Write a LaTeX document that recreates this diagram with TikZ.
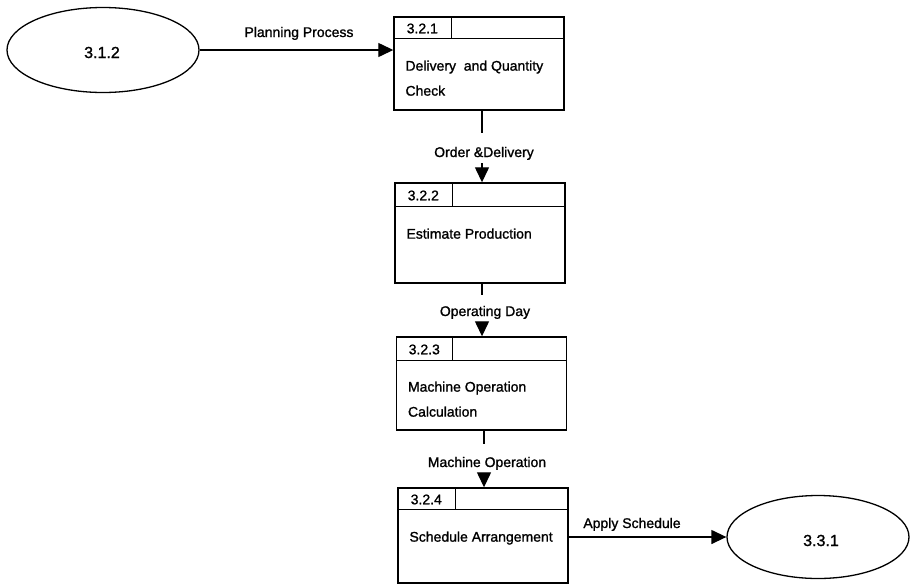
\documentclass[tikz,border=0pt]{standalone}
\usepackage{fontspec}
\setmainfont{Liberation Sans}
% slightly heavier strokes for all diagram text
\newfontfamily\dfdfont{Liberation Sans}[FakeBold=1.2]
\usetikzlibrary{arrows.meta,shapes.geometric}

\begin{document}
\begin{tikzpicture}[x=1pt,y=-1pt,
  every node/.style={font=\dfdfont\fontsize{14}{25}\selectfont},
  line/.style={line width=1.3pt},
  flow/.style={line width=1.3pt,-{Triangle[length=15pt,width=14pt]}},
  procbox/.style={draw,line width=1.4pt,rectangle,inner sep=0pt,minimum width=170pt},
  extent/.style={draw,line width=1.3pt,ellipse,inner sep=0pt},
  numtext/.style={inner sep=0pt,text height=10pt,text depth=0pt},
  bignum/.style={numtext,font=\dfdfont\fontsize{16}{20}\selectfont},
  bodytext/.style={anchor=north west,inner sep=0pt,align=left},
  flowlabel/.style={inner sep=0pt,text height=10pt,text depth=0pt}]

  \useasboundingbox (0,0) rectangle (910,584);

  % external entities
  \node[extent,minimum width=192pt,minimum height=85pt] (e1) at (103,50) {};
  \node[bignum] (e1t) at (102,53) {3.1.2};
  \node[extent,minimum width=182pt,minimum height=83pt] (e2) at (818,537) {};
  \node[bignum] (e2t) at (821,541) {3.3.1};

  % process boxes
  \node[procbox,minimum height=93pt]  (p1) at (479,63.5) {};
  \node[procbox,minimum height=100pt] (p2) at (480,233) {};
  \node[procbox,minimum height=93pt]  (p3) at (481.5,383.5) {};
  \node[procbox,minimum height=95pt]  (p4) at (483,535.5) {};

  % header rows: number cell and empty cell
  \foreach \p/\h/\d/\n in {p1/22/58/3.2.1, p2/24/58/3.2.2, p3/24/57/3.2.3, p4/22/58/3.2.4}{
    \draw[line width=1.4pt] ([yshift=-\h pt]\p.north west) -- ([yshift=-\h pt]\p.north east);
    \draw[line width=1.2pt] ([xshift=\d pt]\p.north west) -- ([xshift=\d pt,yshift=-\h pt]\p.north west);
    \node[numtext] (\p n) at ([xshift=\d pt/2,yshift=-\h pt/2-1pt]\p.north west) {\n};
  }

  % process descriptions
  \node[bodytext] (p1b) at ([xshift=12pt,yshift=-44pt]p1.north west) {Delivery\ \ and Quantity\\Check};
  \node[bodytext] (p2b) at ([xshift=12pt,yshift=-46pt]p2.north west) {Estimate Production};
  \node[bodytext] (p3b) at ([xshift=12pt,yshift=-45pt]p3.north west) {Machine Operation\\Calculation};
  \node[bodytext] (p4b) at ([xshift=12pt,yshift=-44pt]p4.north west) {Schedule Arrangement};

  % flow labels and the gaps they sit in
  \node[flowlabel] (l0) at (299,32) {Planning Process};
  \node[flowlabel] (l1) at (484,152) {Order \&Delivery};
  \node[flowlabel] (l2) at (485,311) {Operating Day};
  \node[flowlabel] (l3) at (487,462) {Machine Operation};
  \node[flowlabel] (l4) at (632,523) {Apply Schedule};

  \coordinate (g1a) at (482,133);  \coordinate (g1b) at (482,163);
  \coordinate (g2a) at (482,295);  \coordinate (g2b) at (482,322);
  \coordinate (g3a) at (484,444);  \coordinate (g3b) at (484,473);

  % data flows
  \draw[flow] (e1.east) -- (p1.west |- e1.east);
  \draw[line] (p1.south -| g1a) -- (g1a);
  \draw[flow] (g1b) -- (g1b |- p2.north);
  \draw[line] (p2.south -| g2a) -- (g2a);
  \draw[flow] (g2b) -- (g2b |- p3.north);
  \draw[line] (p3.south -| g3a) -- (g3a);
  \draw[flow] (g3b) -- (g3b |- p4.north);
  \draw[flow] (p4.east |- e2.west) -- (e2.west);
\end{tikzpicture}
\end{document}
